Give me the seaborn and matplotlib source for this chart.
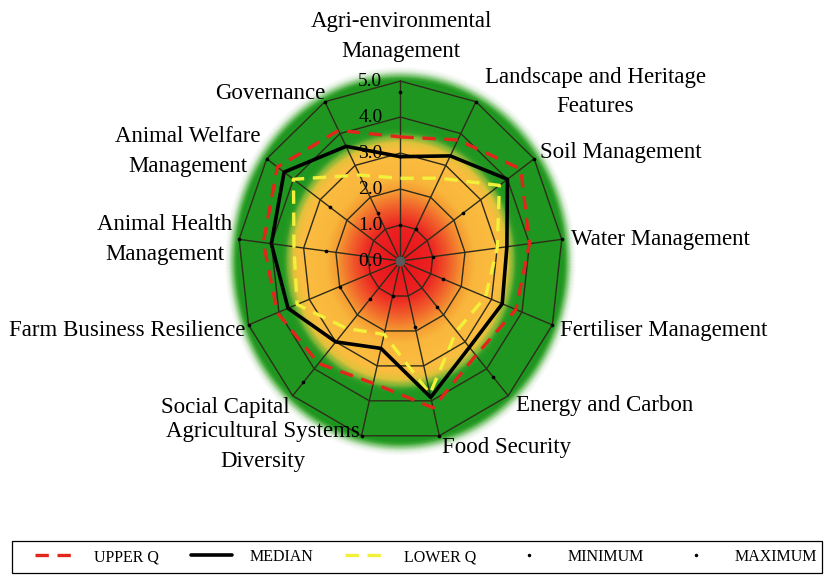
import numpy as np
import pandas as pd
import matplotlib
matplotlib.use("Agg")
import matplotlib.pyplot as plt
from matplotlib.colors import LinearSegmentedColormap, to_rgba
from matplotlib.lines import Line2D
from matplotlib.patches import Rectangle
import seaborn as sns

# Axis names, clockwise from the top
categories = ["Agri-environmental\nManagement", "Landscape and Heritage\nFeatures",
              "Soil Management", "Water Management", "Fertiliser Management",
              "Energy and Carbon", "Food Security", "Agricultural Systems\nDiversity",
              "Social Capital", "Farm Business Resilience", "Animal Health\nManagement",
              "Animal Welfare\nManagement", "Governance"]

# Scores (0-5)
upper_q = [3.45, 3.8, 4.5, 4.0, 3.8, 3.5, 4.2, 3.5, 3.8, 4.05, 4.25, 4.6, 4.1]
median = [2.9, 3.3, 4.0, 3.3, 3.35, 3.2, 3.9, 2.5, 3.0, 3.7, 4.0, 4.35, 3.6]
lower_q = [2.3, 2.6, 3.7, 3.0, 2.8, 2.6, 3.8, 2.1, 2.5, 3.4, 3.3, 4.0, 2.7]
minimum = [1.0, 1.0, 2.35, 1.0, 1.4, 1.7, 1.9, 1.0, 1.4, 2.0, 2.3, 2.65, 1.5]
maximum = [4.7, 5.0, 5.0, 5.0, 5.0, 4.3, 5.0, 5.0, 4.5, 5.0, 5.0, 5.0, 5.0]
r_ticks = [0.0, 1.0, 2.0, 3.0, 4.0, 5.0]

# where the category labels sit (figure fraction)
label_pos = [(0.485, 0.937), (0.7195, 0.840), (0.751, 0.734), (0.798, 0.583),
             (0.803, 0.426), (0.7316, 0.294), (0.613, 0.221), (0.318, 0.223),
             (0.273, 0.292), (0.1536, 0.426), (0.1995, 0.584), (0.227, 0.736),
             (0.3265, 0.838)]

sns.set_style("white")
plt.rcParams['font.family'] = ['Liberation Serif', 'DejaVu Serif']
plt.rcParams['text.color'] = 'black'

n = len(categories)
theta = np.arange(n) * 2 * np.pi / n
theta_c = np.append(theta, theta[0])


def close(vals):
    return np.append(vals, vals[0])


df = pd.DataFrame({"theta": theta_c, "upper": close(upper_q),
                   "median": close(median), "lower": close(lower_q)})

fig = plt.figure(figsize=(8.27, 5.75), dpi=100)
ax = fig.add_axes([0.272, 0.208, 0.4244, 0.676], projection='polar')
ax.set_aspect('auto')
ax.set_theta_zero_location('N')
ax.set_theta_direction(-1)
ax.set_facecolor('none')

# background: red core -> orange -> green band with soft glow
rmax = 5.4
stops = [(0.0, '#e8101a', 1), (1.0, '#ec2422', 1), (1.45, '#f0582a', 1),
         (1.95, '#f59a32', 1), (2.3, '#f9b73c', 1), (3.1, '#fbbd40', 1),
         (3.3, '#e4c23a', 1), (3.45, '#8cb838', 1), (3.6, '#2c9c26', 1),
         (3.75, '#1e961f', 1), (5.03, '#1e961f', 1), (5.12, '#4caf44', 0.75),
         (5.25, '#bfe3b8', 0.3), (rmax, '#ffffff', 0)]
cmap = LinearSegmentedColormap.from_list(
    "bg", [(r / rmax, to_rgba(c, a)) for r, c, a in stops])
tt, rr = np.meshgrid(np.linspace(0, 2 * np.pi, 361), np.linspace(0, rmax, 220))
ax.pcolormesh(tt, rr, rr, cmap=cmap, vmin=0, vmax=rmax, shading='gouraud',
              zorder=0, rasterized=True)

# polygon grid + spokes
grid_col = '#2e2c1a'
for ring in r_ticks[1:]:
    ax.plot(theta_c, [ring] * (n + 1), color=grid_col, lw=1.0, zorder=1)
for t in theta:
    ax.plot([t, t], [0, 5], color=grid_col, lw=1.0, zorder=1)
ax.plot([0], [0], 'o', color='#5a5a5a', ms=6, zorder=2)

# quartile / median lines
sns.lineplot(data=df, x="theta", y="upper", sort=False, estimator=None, ax=ax,
             color='#e3261c', lw=2.4, linestyle=(0, (4, 2.6)), legend=False, zorder=4)
sns.lineplot(data=df, x="theta", y="median", sort=False, estimator=None, ax=ax,
             color='black', lw=2.6, legend=False, zorder=5)
sns.lineplot(data=df, x="theta", y="lower", sort=False, estimator=None, ax=ax,
             color='#f2f03a', lw=2.4, linestyle=(0, (4, 2.6)), legend=False, zorder=4)

# min / max dots
sns.scatterplot(x=theta, y=minimum, ax=ax, color='black', s=7, linewidth=0,
                legend=False, zorder=6)
sns.scatterplot(x=theta, y=maximum, ax=ax, color='black', s=7, linewidth=0,
                legend=False, zorder=6)

# radial value labels
for v in r_ticks:
    ax.annotate(f"{v:.1f}", xy=(0, v), xytext=(-13, 0), textcoords='offset points',
                ha='right', va='center', fontsize=14, zorder=7)

ax.set_ylim(0, rmax)
ax.set_xticks([])
ax.set_yticks([])
ax.grid(False)
ax.spines['polar'].set_visible(False)
ax.set_xlabel("")
ax.set_ylabel("")

for name, (x, y) in zip(categories, label_pos):
    fig.text(x, y, name, ha='center', va='center', fontsize=16.5,
             multialignment='center', linespacing=1.55)

handles = [Line2D([], [], color='#e3261c', lw=2.4, linestyle=(0, (4, 2.6))),
           Line2D([], [], color='black', lw=2.6),
           Line2D([], [], color='#f2f03a', lw=2.4, linestyle=(0, (4, 2.6))),
           Line2D([], [], color='black', marker='.', ms=3, ls='none'),
           Line2D([], [], color='black', marker='.', ms=3, ls='none')]
labels = ["UPPER Q", "MEDIAN", "LOWER Q", "MINIMUM", "MAXIMUM"]
leg = fig.legend(handles, labels, loc='center left',
                 bbox_to_anchor=(30 / 827, 2 / 575, 792 / 827, 32 / 575),
                 mode='expand', ncol=5, frameon=False, fontsize=11.5,
                 handlelength=2.6, handletextpad=1.1, borderaxespad=0,
                 borderpad=0.3)
for txt in leg.get_texts():
    txt.set_color('black')
fig.patches.append(Rectangle((12 / 827, 2 / 575), 810 / 827, 32 / 575,
                             transform=fig.transFigure, fill=False,
                             edgecolor='black', lw=0.9))

fig.savefig("out.png", dpi=100)
